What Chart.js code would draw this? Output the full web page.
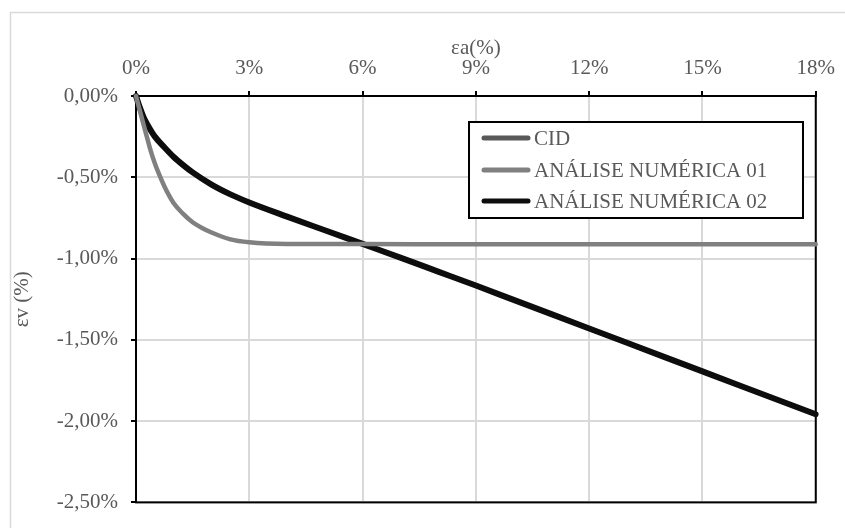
<!DOCTYPE html>
<html>
<head>
<meta charset="utf-8">
<script src="https://cdn.jsdelivr.net/npm/chart.js@4.4.1/dist/chart.umd.min.js"></script>
<style>
    html, body { margin: 0; padding: 0; background: #fff; }
    #wrap { width: 845px; height: 528px; }
</style>
</head>
<body>
<div id="wrap"><canvas id="chart" width="845" height="528"></canvas></div>
<script>
// εa (%) na horizontal, εv (%) na vertical
const seriesNames = ['CID', 'ANÁLISE NUMÉRICA 01', 'ANÁLISE NUMÉRICA 02'];
const seriesColors = ['#595959', '#808080', '#0d0d0d'];

// CID: nenhum ponto visível no gráfico
const cidX = [];
const cidY = [];

const num01X = [0, 0.1, 0.2, 0.3, 0.4, 0.5, 0.6, 0.75, 1, 1.25, 1.5, 1.75, 2, 2.5, 3, 4, 6, 9, 12, 15, 18];
const num01Y = [0, -0.088, -0.176, -0.262, -0.345, -0.415, -0.475, -0.555, -0.66, -0.725, -0.777, -0.812, -0.84, -0.882, -0.90, -0.91, -0.911, -0.912, -0.912, -0.912, -0.912];

const num02X = [0, 0.1, 0.2, 0.3, 0.5, 0.75, 1, 1.25, 1.5, 2, 2.5, 3, 4, 5, 6, 7, 8, 9, 10, 11, 12, 13, 14, 15, 16, 17, 18];
const num02Y = [0, -0.07, -0.13, -0.175, -0.25, -0.315, -0.375, -0.425, -0.47, -0.545, -0.605, -0.655, -0.742, -0.826, -0.91, -0.994, -1.08, -1.166, -1.254, -1.342, -1.43, -1.518, -1.606, -1.694, -1.782, -1.87, -1.958];

const xTicks = [0, 3, 6, 9, 12, 15, 18];
const yTicks = [0, -0.5, -1, -1.5, -2, -2.5];

const FONT = "'Liberation Serif', 'Times New Roman', serif";
const TEXT_COLOR = '#595959';

function toPoints(xs, ys) {
    return xs.map((x, i) => ({ x: x, y: ys[i] }));
}

function fmtY(v) {
    if (Math.abs(v) < 1e-9) v = 0;
    return v.toFixed(2).replace('.', ',') + '%';
}

const pointsList = [toPoints(cidX, cidY), toPoints(num01X, num01Y), toPoints(num02X, num02Y)];
const lineWidths = [5, 4.5, 6];

// moldura externa, borda da área do gráfico e títulos dos eixos
const framePlugin = {
    id: 'frame',
    beforeDraw(chart) {
        const ctx = chart.ctx;
        ctx.save();
        ctx.strokeStyle = '#d9d9d9';
        ctx.lineWidth = 1.5;
        ctx.strokeRect(10.5, 12.5, 900, 600);
        ctx.restore();
    },
    beforeDatasetsDraw(chart) {
        const a = chart.chartArea;
        const ctx = chart.ctx;
        ctx.save();
        ctx.strokeStyle = '#000';
        ctx.lineWidth = 2;
        ctx.strokeRect(a.left, a.top, a.right - a.left, a.bottom - a.top);
        ctx.restore();
    },
    afterDraw(chart) {
        const a = chart.chartArea;
        const ctx = chart.ctx;
        ctx.save();
        ctx.fillStyle = TEXT_COLOR;
        ctx.font = '21px ' + FONT;
        ctx.textAlign = 'center';
        ctx.textBaseline = 'middle';
        ctx.fillText('εa(%)', (a.left + a.right) / 2, a.top - 48);
        ctx.translate(a.left - 114, (a.top + a.bottom) / 2);
        ctx.rotate(-Math.PI / 2);
        ctx.fillText('εv (%)', 0, 0);
        ctx.restore();

        // legenda com moldura
        const bx = a.left + 333, by = a.top + 26, bw = 334, bh = 96;
        ctx.save();
        ctx.fillStyle = '#fff';
        ctx.fillRect(bx, by, bw, bh);
        ctx.strokeStyle = '#000';
        ctx.lineWidth = 2;
        ctx.strokeRect(bx, by, bw, bh);
        ctx.font = '21px ' + FONT;
        ctx.textBaseline = 'middle';
        ctx.textAlign = 'left';
        const rows = [16, 48, 79];
        seriesNames.forEach((name, i) => {
            const y = by + rows[i];
            ctx.strokeStyle = seriesColors[i];
            ctx.lineWidth = 5;
            ctx.lineCap = 'round';
            ctx.beginPath();
            ctx.moveTo(bx + 15, y);
            ctx.lineTo(bx + 59, y);
            ctx.stroke();
            ctx.fillStyle = TEXT_COLOR;
            ctx.fillText(name, bx + 65, y + 1);
        });
        ctx.restore();
    }
};

new Chart(document.getElementById('chart'), {
    type: 'line',
    data: {
        datasets: seriesNames.map((name, i) => ({
            label: name,
            data: pointsList[i],
            borderColor: seriesColors[i],
            backgroundColor: seriesColors[i],
            borderWidth: lineWidths[i],
            borderCapStyle: 'round',
            borderJoinStyle: 'round',
            pointRadius: 0,
            cubicInterpolationMode: 'monotone',
            fill: false,
            clip: 3
        }))
    },
    options: {
        responsive: false,
        animation: false,
        events: [],
        layout: { padding: { left: 0, top: 0, right: 23, bottom: 21 } },
        plugins: {
            legend: { display: false },
            tooltip: { enabled: false }
        },
        scales: {
            x: {
                type: 'linear',
                position: 'top',
                min: 0,
                max: 18,
                afterBuildTicks: s => { s.ticks = xTicks.map(v => ({ value: v })); },
                afterFit: s => { s.height = 96; },
                ticks: {
                    color: TEXT_COLOR,
                    font: { family: FONT, size: 21 },
                    padding: 10,
                    maxRotation: 0,
                    callback: v => v + '%'
                },
                grid: {
                    color: '#d9d9d9',
                    lineWidth: 2,
                    tickColor: '#000',
                    tickWidth: 2,
                    tickLength: 5
                },
                border: { color: '#000', width: 2 }
            },
            y: {
                type: 'linear',
                min: -2.5,
                max: 0,
                afterBuildTicks: s => { s.ticks = yTicks.map(v => ({ value: v })); },
                afterFit: s => { s.width = 136; },
                ticks: {
                    color: TEXT_COLOR,
                    font: { family: FONT, size: 21 },
                    padding: 13,
                    callback: v => fmtY(v)
                },
                grid: {
                    color: '#d9d9d9',
                    lineWidth: 2,
                    tickColor: '#000',
                    tickWidth: 2,
                    tickLength: 5
                },
                border: { color: '#000', width: 2 }
            }
        }
    },
    plugins: [framePlugin]
});
</script>
</body>
</html>
